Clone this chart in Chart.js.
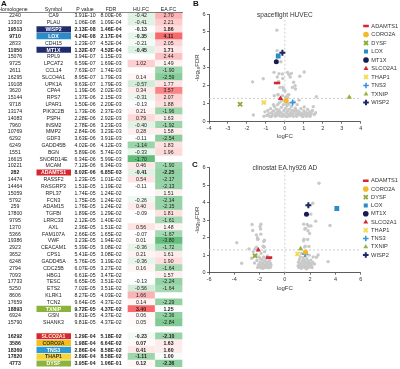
<!DOCTYPE html>
<html><head><meta charset="utf-8">
<script src="https://cdn.jsdelivr.net/npm/chart.js"></script>
<style>
html,body{margin:0;padding:0;background:#fff;}
body{width:400px;height:369px;position:relative;overflow:hidden;font-family:"Liberation Sans",Arial,sans-serif;}
canvas{position:absolute;}
.lbl{position:absolute;font-weight:bold;font-size:8px;line-height:1;color:#111;}
</style></head><body>
<canvas id="tbl" width="192" height="369" style="left:0;top:0"></canvas>
<canvas id="cb" width="210" height="142" style="left:190px;top:0"></canvas>
<canvas id="cc" width="210" height="140" style="left:190px;top:153px"></canvas>
<div class="lbl" style="left:1px;top:0px">A</div>
<div class="lbl" style="left:193px;top:0px">B</div>
<div class="lbl" style="left:192px;top:161px">C</div>
<script>
// ---------------- DATA ----------------
const homologene = [2240,13303,19513,9710,2833,11050,15076,9725,2611,16295,19108,3620,15144,9718,13174,14083,7960,10769,6292,6249,1551,16615,10221,282,14474,14464,15059,5792,259,17800,9795,1370,5366,19386,2923,3652,6248,2794,7093,17733,5250,8606,17659,18893,6924,15790,16292,3586,18369,17820,4773];
const symbols = ['CA9','PLAU','WISP2','LOX','CDH15','MT1X','RPL9','LPCAT2','CCL14','SLCO4A1','UPK1A','CPA4','RPS7','LPAR1','PIK3C2B','PSPH','INSM2','MMP2','GDF3','GADD45B','BGN','SNORD14E','MCAM','ADAMTS1','RASSF2','RASGRP3','RPL37','FCN3','ADAM15','TGFBI','LRRC33','AXL','FAM107A','VWF','CEACAM1','CPS1','GADD45A','CDC25B','HBG1','TESC','ETS2','KLRK1','TCN2','TXNIP','GSN','SHANK3','SLCO2A1','CORO2A','TNS3','THAP1','DYSF'];
const pValues = [3.91e-10,1.06e-8,2.13e-8,4.24e-8,1.23e-7,1.32e-7,3.94e-7,6.59e-7,7.63e-7,8.95e-7,9.63e-7,1.19e-6,1.37e-6,1.50e-6,1.73e-6,2.28e-6,2.78e-6,2.84e-6,3.63e-6,4.02e-6,5.89e-6,6.34e-6,7.12e-6,8.02e-6,1.23e-5,1.51e-5,1.74e-5,1.75e-5,1.76e-5,1.89e-5,2.12e-5,2.36e-5,2.66e-5,3.23e-5,5.39e-5,5.41e-5,5.76e-5,6.07e-5,6.61e-5,6.65e-5,7.02e-5,8.27e-5,9.64e-5,9.72e-5,9.81e-5,9.81e-5,1.29e-4,1.98e-4,2.86e-4,2.89e-4,3.95e-4];
const fdrValues = [8.00e-6,1.09e-4,1.46e-4,2.17e-4,4.52e-4,4.52e-4,1.15e-3,1.69e-3,1.74e-3,1.79e-3,1.79e-3,2.02e-3,2.15e-3,2.20e-3,2.37e-3,2.92e-3,3.23e-3,3.23e-3,3.91e-3,4.12e-3,5.74e-3,5.99e-3,6.34e-3,6.85e-3,1.01e-2,1.19e-2,1.24e-2,1.24e-2,1.24e-2,1.29e-2,1.40e-2,1.51e-2,1.65e-2,1.94e-2,3.08e-2,3.08e-2,3.19e-2,3.27e-2,3.47e-2,3.51e-2,3.51e-2,4.03e-2,4.37e-2,4.37e-2,4.37e-2,4.37e-2,5.18e-2,6.64e-2,8.58e-2,8.58e-2,1.06e-1];
const huFC = [-0.42,-0.41,-0.13,-0.35,-0.21,-0.45,null,1.02,null,0.14,-0.57,0.34,-0.31,-0.13,0.21,0.79,-0.40,0.28,-0.11,-1.14,-0.33,-1.70,0.46,-0.41,0.54,-0.11,null,-0.26,0.40,-0.09,null,0.56,-0.07,0.01,-0.36,0.21,-0.36,0.16,null,-0.13,-0.56,1.66,0.14,3.40,0.06,0.05,-0.23,0.07,0.41,-1.11,0.12];
const eaFC = [2.70,2.21,1.86,4.11,2.05,1.71,2.44,1.49,-1.90,-2.59,1.77,3.57,2.07,1.88,-1.96,1.63,-1.92,1.58,-2.54,1.83,1.96,null,-1.90,-2.25,-2.17,-2.13,1.51,-2.14,-2.15,1.81,-1.61,1.48,-1.67,-3.80,-1.72,1.61,1.90,-1.64,1.57,-2.24,-1.64,null,-2.29,1.25,-2.36,-2.84,-2.10,1.63,1.60,1.00,-2.36];
// -log10 FDR of the table genes (y position of their grey points)
const negLog10FDR = [5.10,3.96,3.84,3.66,3.34,3.34,2.94,2.77,2.76,2.75,2.75,2.69,2.67,2.66,2.63,2.53,2.49,2.49,2.41,2.39,2.24,2.22,2.20,2.16,2.00,1.92,1.91,1.91,1.91,1.89,1.85,1.82,1.78,1.71,1.51,1.51,1.50,1.49,1.46,1.45,1.45,1.39,1.36,1.36,1.36,1.36,1.29,1.18,1.07,1.07,0.97];
const tableHeaders = ['Homologene','Symbol','P value','FDR','HU.FC','EA.FC'];

// highlighted genes in the volcano plots
const markerGenes = ['ADAMTS1','CORO2A','DYSF','LOX','MT1X','SLCO2A1','THAP1','TNS3','TXNIP','WISP2'];
const markerB_x = [-0.41,0.07,-2.36,-0.35,-0.45,-0.23,-1.11,0.41,3.40,-0.13];
const markerB_y = [2.16,1.18,0.97,3.66,3.34,1.29,1.07,1.07,1.36,3.84];
const markerC_x = [-1.25,1.63,-2.36,4.11,1.71,-2.10,1.00,1.60,1.25,1.86];
const markerC_y = [0.86,1.18,0.97,3.66,3.34,1.29,1.07,1.07,1.36,3.84];

// non-table genes (grey cloud)
const otherGenesB = [[-1.66,0.37],[-1.05,0.55],[-1.1,0.3],[-0.95,0.35],[-0.9,0.62],[-0.85,0.45],[-0.8,0.3],[-0.75,0.72],[-0.7,0.5],[-0.65,0.38],[-0.6,0.6],[-0.55,0.85],[-0.5,0.45],[-0.5,0.3],[-0.45,0.7],[-0.4,0.55],[-0.38,0.95],[-0.35,0.4],[-0.3,1.05],[-0.3,0.65],[-0.25,0.32],[-0.2,0.5],[-0.18,0.8],[-0.15,1.2],[-0.1,0.42],[-0.08,0.95],[-0.05,0.62],[0,0.35],[0.02,1.1],[0.05,0.75],[0.08,0.5],[0.1,0.28],[0.12,0.9],[0.15,0.6],[0.2,0.4],[0.22,1.0],[0.25,0.7],[0.3,0.33],[0.3,0.5],[0.35,0.85],[0.4,0.62],[0.42,0.4],[0.45,0.3],[0.5,0.55],[0.55,0.75],[0.6,0.42],[0.62,0.3],[0.65,0.95],[0.7,0.6],[0.75,0.38],[0.8,0.5],[0.85,0.72],[0.9,0.32],[0.95,0.45],[1.0,0.6],[1.05,0.38],[1.1,0.52],[1.15,0.3],[1.2,0.68],[1.25,0.42],[1.3,0.55],[1.35,0.35],[1.4,0.48],[1.45,0.62],[1.5,0.84],[1.55,0.4],[1.62,0.5],[-0.6,0.95],[0.5,1.1],[-0.2,1.15],[0.75,1.2],[1.02,0.82],[-0.72,0.28],[-0.28,0.52],[0.18,0.32],[0.58,0.62],[0.88,0.42],[1.18,0.45],[-0.42,0.35],[0.36,0.45],[0.68,0.48],[1.32,0.3],[-0.12,0.3],[0.95,0.28]];
const otherGenesC = [[-3.42,0.54],[-2.63,0.82],[-2.4,0.55],[-2.3,1.0],[-2.2,0.7],[-2.1,0.45],[-2.05,0.9],[-2.0,0.35],[-1.95,0.6],[-1.9,0.28],[-1.88,1.1],[-1.85,0.48],[-1.8,0.75],[-1.78,0.32],[-1.75,0.55],[-1.7,0.4],[-1.68,0.9],[-1.65,0.28],[-1.6,0.65],[-1.55,0.45],[-1.52,0.33],[-1.5,0.78],[-1.45,0.55],[-1.42,0.3],[-1.4,0.42],[-1.38,0.95],[-1.35,0.62],[-1.32,0.35],[-1.3,0.5],[-1.25,0.28],[-1.22,0.7],[-1.2,0.4],[-1.15,0.55],[-1.12,0.32],[-1.1,0.45],[-2.5,1.2],[-1.6,1.2],[-2.15,0.3],[-1.75,0.25],[-1.95,0.8],[1.05,0.4],[1.08,0.6],[1.1,0.3],[1.15,0.75],[1.2,0.45],[1.22,0.9],[1.25,0.33],[1.3,0.55],[1.32,1.1],[1.35,0.28],[1.4,0.68],[1.42,0.42],[1.45,0.85],[1.5,0.35],[1.52,0.55],[1.55,0.7],[1.6,0.3],[1.62,0.95],[1.65,0.45],[1.7,0.6],[1.72,0.32],[1.75,0.8],[1.8,0.5],[1.82,0.28],[1.85,0.65],[1.9,0.4],[1.92,1.0],[1.95,0.55],[2.0,0.33],[2.05,0.72],[2.1,0.45],[2.15,0.3],[2.2,0.6],[2.24,0.9],[2.63,1.01],[2.5,0.88],[3.42,0.63],[1.3,0.25],[1.7,0.22],[2.35,0.5]];

const fdrCutoff = 1.3;           // -log10(0.05)
const gapAfterRow = 46;          // blank line in the table before SLCO2A1

// ---------------- STYLE ----------------
Chart.defaults.font.family = '"Liberation Sans", Arial, Helvetica, sans-serif';
Chart.defaults.color = '#333';
const FONT = '"Liberation Sans", Arial, Helvetica, sans-serif';

const symbolBox = {WISP2:['#1f2d6e','#ffffff'],LOX:['#2a8cc8','#ffffff'],MT1X:['#1f2d6e','#ffffff'],ADAMTS1:['#d7262e','#ffffff'],TXNIP:['#8cb43c','#ffffff'],SLCO2A1:['#d7262e','#fff6c8'],CORO2A:['#f2bf1f','#333333'],TNS3:['#2b9ad8','#ffffff'],THAP1:['#f6d43c','#333333'],DYSF:['#8cb43c','#ffffff']};
const markerStyle = {
  ADAMTS1:{c:'#d7262e',s:'line',r:3.2,w:2.6},
  CORO2A:{c:'#f2b92a',s:'circle',r:2.6,w:0},
  DYSF:{c:'#8aac3a',s:'crossRot',r:3,w:1.8},
  LOX:{c:'#2b8cc4',s:'rect',r:3.4,w:0},
  MT1X:{c:'#171c4f',s:'circle',r:2.5,w:0},
  SLCO2A1:{c:'#d7262e',s:'triangle',r:3,w:0},
  THAP1:{c:'#f3dc55',s:'crossRot',r:3,w:1.8},
  TNS3:{c:'#3796d6',s:'cross',r:3,w:1.6},
  TXNIP:{c:'#94b53f',s:'triangle',r:3,w:0},
  WISP2:{c:'#1e2762',s:'cross',r:3,w:2}
};
// column layout of the table (x in canvas px)
const COL = {centers:[15,53.5,85,111,141,168.5], headerCenters:[13,53.5,85,111,141,168.5], sym:[36.5,71], hu:[128,154.5], ea:[155.5,182], right:183};

// Excel-like 3-colour scale (green - white at median - red)
function colorScale(vals){
  const v = vals.filter(x=>x!=null).slice().sort((a,b)=>a-b);
  const n=v.length, min=v[0], max=v[n-1];
  const mid = n%2 ? v[(n-1)/2] : (v[n/2-1]+v[n/2])/2;
  const G=[99,190,123], W=[255,255,255], R=[248,105,107];
  const mix=(a,b,t)=>'rgb('+a.map((c,i)=>Math.round(c+(b[i]-c)*t)).join(',')+')';
  return x => x==null ? 'rgba(0,0,0,0)' : (x<=mid ? mix(W,G,(mid-x)/(mid-min)) : mix(W,R,(x-mid)/(max-mid)));
}
const huColor = colorScale(huFC), eaColor = colorScale(eaFC);

function fmtE(v){ const [m,e]=v.toExponential(2).split('e'); const n=parseInt(e,10); return m+'E'+(n<0?'-':'+')+String(Math.abs(n)).padStart(2,'0'); }
function fmtF(v){ return v==null ? '' : v.toFixed(2); }

// ---------------- TABLE (panel A) ----------------
const nSlots = symbols.length + 1;
const slotOf = i => i < gapAfterRow ? i : i + 1;
function slotArray(fn, empty){ const a = new Array(nSlots).fill(empty); symbols.forEach((s,i)=>{ a[slotOf(i)] = fn(i); }); return a; }
const slotLabels = slotArray(i => symbols[i], '');

const tableText = {
  id:'tableText',
  afterDatasetsDraw(chart){
    const {ctx, chartArea, scales:{x, y}} = chart;
    ctx.save();
    ctx.textAlign='center'; ctx.textBaseline='middle';
    ctx.fillStyle='#222';
    ctx.font = '5.2px '+FONT;
    tableHeaders.forEach((h,k)=>ctx.fillText(h, x.getPixelForValue(COL.headerCenters[k]), chartArea.top-3.2));
    ctx.strokeStyle='#555'; ctx.lineWidth=0.7;
    ctx.beginPath(); ctx.moveTo(x.getPixelForValue(0), chartArea.top+0.2); ctx.lineTo(x.getPixelForValue(COL.right), chartArea.top+0.2); ctx.stroke();
    symbols.forEach((s,i)=>{
      const yy = y.getPixelForValue(slotOf(i)) + 0.3;
      const hl = symbolBox[s];
      ctx.font = (hl ? 'bold ' : '') + '5.2px ' + FONT;
      const cells = [String(homologene[i]), s, fmtE(pValues[i]), fmtE(fdrValues[i]), fmtF(huFC[i]), fmtF(eaFC[i])];
      cells.forEach((t,k)=>{
        ctx.fillStyle = (k===1 && hl) ? hl[1] : '#222';
        ctx.fillText(t, x.getPixelForValue(COL.centers[k]), yy);
      });
    });
    ctx.restore();
  }
};

new Chart(document.getElementById('tbl'), {
  type:'bar',
  data:{
    labels: slotLabels,
    datasets:[
      {label:'symbol', data: slotArray(i => symbolBox[symbols[i]] ? COL.sym : null, null),
       backgroundColor: slotArray(i => symbolBox[symbols[i]] ? symbolBox[symbols[i]][0] : 'rgba(0,0,0,0)', 'rgba(0,0,0,0)'), barPercentage:0.9},
      {label:'HU.FC', data: slotArray(i => huFC[i]==null ? null : COL.hu, null),
       backgroundColor: slotArray(i => huColor(huFC[i]), 'rgba(0,0,0,0)')},
      {label:'EA.FC', data: slotArray(i => eaFC[i]==null ? null : COL.ea, null),
       backgroundColor: slotArray(i => eaColor(eaFC[i]), 'rgba(0,0,0,0)')}
    ]
  },
  options:{
    responsive:false, animation:false, events:[], indexAxis:'y',
    layout:{padding:{top:12.3,bottom:2.1,left:0,right:0}},
    datasets:{bar:{grouped:false,barPercentage:1,categoryPercentage:1,borderWidth:0}},
    scales:{x:{type:'linear',min:0,max:192,display:false},y:{type:'category',display:false}},
    plugins:{legend:{display:false},tooltip:{enabled:false}}
  },
  plugins:[tableText]
});

// ---------------- VOLCANO PLOTS (panels B, C) ----------------
function volcano(id, cfg){
  const markers = markerGenes.map((g,k)=>{
    const st = markerStyle[g];
    return {label:g, data:[{x:cfg.mx[k], y:cfg.my[k]}], pointStyle:st.s, pointRadius:st.r,
      backgroundColor:st.c, borderColor:st.c, borderWidth:st.w};
  });
  const tablePts = [];
  cfg.fc.forEach((v,i)=>{ if (v!=null) tablePts.push({x:v, y:negLog10FDR[i]}); });
  const otherPts = cfg.other.map(p=>({x:p[0], y:p[1]}));
  const grey = {pointRadius:1.7, backgroundColor:'#c9c9c9', borderWidth:0, pointStyle:'circle'};
  const dash = {showLine:true, pointRadius:0, borderColor:'#cfcfcf', borderWidth:1, borderDash:[2,2], fill:false};
  const tickGrid = {display:true, drawOnChartArea:false, drawTicks:true, tickLength:2, color:'#333', lineWidth:0.7};
  return new Chart(document.getElementById(id), {
    type:'scatter',
    data:{datasets:[
      ...markers,
      Object.assign({label:'table genes', data:tablePts}, grey),
      Object.assign({label:'other genes', data:otherPts}, grey),
      Object.assign({label:'FDR 0.05', data:[{x:cfg.xr[0],y:fdrCutoff},{x:cfg.xr[1],y:fdrCutoff}]}, dash),
      Object.assign({label:'logFC 0', data:[{x:0,y:0},{x:0,y:6}]}, dash)
    ]},
    options:{
      responsive:false, animation:false, events:[],
      layout:{padding:{top:cfg.padTop,left:0,right:0,bottom:0}},
      scales:{
        x:{type:'linear', min:cfg.xr[0], max:cfg.xr[1],
           ticks:{stepSize:cfg.xStep, font:{size:5.5}, color:'#333', padding:1},
           grid:tickGrid, border:{display:true,color:'#333',width:0.8},
           title:{display:true, text:'logFC', font:{size:6}, color:'#333', padding:{top:0,bottom:cfg.xTitlePad}},
           afterFit(s){ s.height = 20.3; }},
        y:{type:'linear', min:0, max:6,
           ticks:{stepSize:1, font:{size:5.5}, color:'#333', padding:1.5},
           grid:tickGrid, border:{display:true,color:'#333',width:0.8},
           title:{display:true, text:'-log\u2081\u2080FDR', font:{size:6}, color:'#333', padding:{top:3.5,bottom:0}},
           afterFit(s){ s.width = 19; }}
      },
      plugins:{
        tooltip:{enabled:false},
        title:{display:true, text:cfg.title, fullSize:false, font:{size:6.5, weight:'normal'}, color:'#333', padding:{top:0,bottom:cfg.titlePadB}},
        legend:{position:'right', align:'start', fullSize:false, maxWidth:39.3,
          title:{display:true, text:' ', font:{size:1}, padding:{top:cfg.legTitle,bottom:0}},
          labels:{usePointStyle:true, boxWidth:5, boxHeight:4, padding:cfg.legPad, font:{size:5.7}, color:'#333',
                  filter:item => item.datasetIndex < markerGenes.length,
                  generateLabels(chart){
                    return Chart.defaults.plugins.legend.labels.generateLabels(chart).map(it => Object.assign(it, {fontColor:'#333'}));
                  }}}
      }
    }
  });
}

volcano('cb', {title:'spaceflight HUVEC', mx:markerB_x, my:markerB_y, fc:huFC, other:otherGenesB,
  xr:[-4,4], xStep:1, padTop:11, titlePadB:-4.8, xTitlePad:1.7, legTitle:5.15, legPad:2.8});
volcano('cc', {title:'clinostat EA.hy926 AD', mx:markerC_x, my:markerC_y, fc:eaFC, other:otherGenesC,
  xr:[-6,6], xStep:2, padTop:11.4, titlePadB:-4.7, xTitlePad:1.1, legTitle:6.59, legPad:2.56});
</script>
</body></html>
